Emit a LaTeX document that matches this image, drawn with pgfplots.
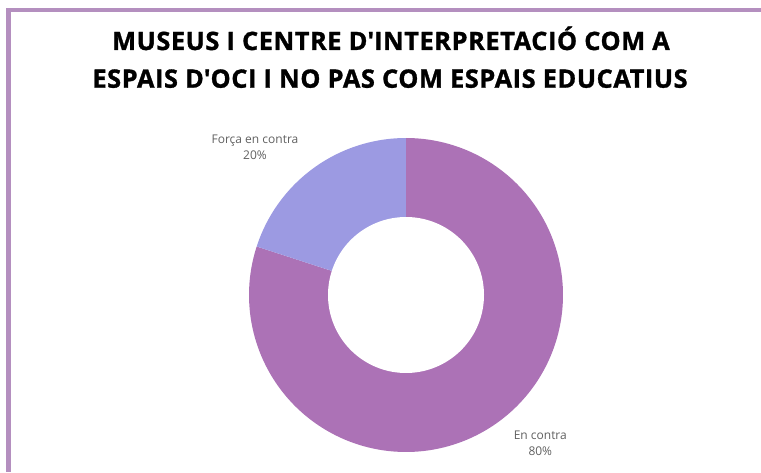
\documentclass[border=0pt]{standalone}
\usepackage{pgfplots}
\pgfplotsset{compat=1.18}
\usepackage{pgfplotstable}
\usepackage{fontspec}
\setmainfont{Open Sans}
\newfontfamily\titlefont{Open Sans}[LetterSpace=2.4,FakeBold=1.2]
\definecolor{frame}{HTML}{B48FBF}
\definecolor{purp}{HTML}{AC72B6}
\definecolor{lav}{HTML}{9C9AE2}
\definecolor{txt}{HTML}{606060}
\pgfplotstableread{
label value
EnContra 80
ForcaEnContra 20
}\datatable
\begin{document}
\begin{tikzpicture}[x=1pt,y=1pt]
\useasboundingbox (0,0) rectangle (761,472);
\fill[frame] (6,459.7) rectangle (761,464.3);
\fill[frame] (6,0) rectangle (11,464.3);
\node[anchor=base,font=\titlefont\bfseries\fontsize{25.3}{28}\selectfont] at (391,422) {MUSEUS I CENTRE D\textquotesingle INTERPRETACIÓ COM A};
\node[anchor=base,font=\titlefont\bfseries\fontsize{25.3}{28}\selectfont] at (390,384.3) {ESPAIS D\textquotesingle OCI I NO PAS COM ESPAIS EDUCATIUS};
\pgfplotstablegetelem{0}{value}\of\datatable
\pgfmathsetmacro\va{\pgfplotsretval}
\pgfplotstablegetelem{1}{value}\of\datatable
\pgfmathsetmacro\vb{\pgfplotsretval}
\pgfmathsetmacro\tot{\va+\vb}
\pgfmathsetmacro\aEnd{90-360*(\va/\tot)}
\pgfmathsetmacro\bEnd{\aEnd-360*(\vb/\tot)}
\begin{axis}[
  at={(406pt,177pt)}, anchor=center,
  scale only axis, width=400pt, height=400pt,
  xmin=-200, xmax=200, ymin=-200, ymax=200,
  hide axis, clip=false,
]
\addplot[fill=purp, draw=none, domain=90:\aEnd, samples=200, variable=\t]
  ({157*cos(t)},{157*sin(t)}) -- (axis cs:0,0) -- cycle;
\addplot[fill=lav, draw=none, domain=\aEnd:\bEnd, samples=100, variable=\t]
  ({157*cos(t)},{157*sin(t)}) -- (axis cs:0,0) -- cycle;
\addplot[fill=white, draw=none, domain=0:360, samples=200, variable=\t]
  ({78*cos(t)},{78*sin(t)}) -- cycle;
\node[anchor=base, text=txt, font=\fontsize{12}{14}\selectfont] at (axis cs:-151,151.7) {Força en contra};
\node[anchor=base, text=txt, font=\fontsize{12}{14}\selectfont] at (axis cs:-151,135) {20\%};
\node[anchor=base, text=txt, font=\fontsize{12}{14}\selectfont] at (axis cs:134.3,-144) {En contra};
\node[anchor=base, text=txt, font=\fontsize{12}{14}\selectfont] at (axis cs:134.3,-160.7) {80\%};
\end{axis}
\end{tikzpicture}
\end{document}
